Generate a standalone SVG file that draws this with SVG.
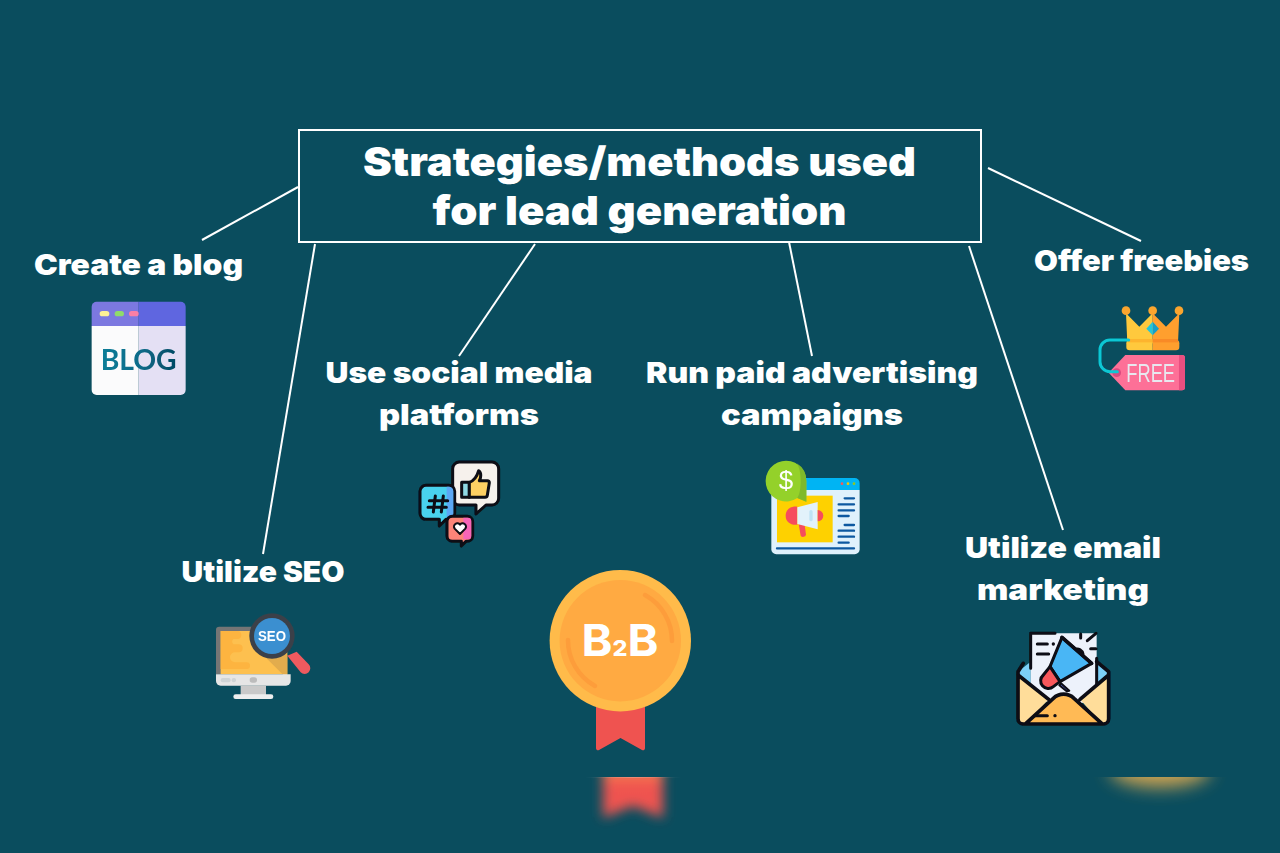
<svg xmlns="http://www.w3.org/2000/svg" width="1280" height="853" viewBox="0 0 1280 853">
  <style>
    .bg { fill: #0a4d5e; }
    .lbl { font-family: "Inter", "Liberation Sans", sans-serif; font-weight: 900; font-size: 29px; fill: #ffffff; text-anchor: middle; }
    .ttl { font-family: "Inter", "Liberation Sans", sans-serif; font-weight: 900; font-size: 40px; fill: #ffffff; text-anchor: middle; }
    .conn line { stroke: #ffffff; stroke-width: 2; fill: none; }
    .ink { stroke: #0b0b12; stroke-width: 9; stroke-linejoin: round; stroke-linecap: round; }
    .ico { font-family: "Liberation Sans", sans-serif; font-weight: 700; text-anchor: middle; }
  </style>
  <defs>
    <filter id="soft" x="-10%" y="-10%" width="120%" height="120%"><feGaussianBlur stdDeviation="1.5"/></filter>
    <filter id="blurA" x="-50%" y="-50%" width="200%" height="200%"><feGaussianBlur stdDeviation="6"/></filter>
    <filter id="blurB" x="-40%" y="-150%" width="180%" height="400%"><feGaussianBlur stdDeviation="9"/></filter>
    <clipPath id="floor"><rect x="0" y="777" width="1280" height="76"/></clipPath>
    <linearGradient id="ribbonFade" x1="0" y1="0" x2="0" y2="1">
      <stop offset="0" stop-color="#f98a50"/>
      <stop offset="0.35" stop-color="#ef5350"/>
      <stop offset="1" stop-color="#ee5450"/>
    </linearGradient>
    <linearGradient id="blogInk" gradientUnits="userSpaceOnUse" x1="122" y1="0" x2="350" y2="0">
      <stop offset="0" stop-color="#0a7d98"/>
      <stop offset="0.5" stop-color="#0a6c8a"/>
      <stop offset="1" stop-color="#054a64"/>
    </linearGradient>
    <linearGradient id="sheen" x1="0" y1="0" x2="1" y2="0">
      <stop offset="0" stop-color="#ffffff" stop-opacity="0"/>
      <stop offset="0.5" stop-color="#ffffff" stop-opacity="0.22"/>
      <stop offset="1" stop-color="#ffffff" stop-opacity="0"/>
    </linearGradient>
  </defs>

  <rect class="bg" width="1280" height="853"/>

  <g id="connectors" class="conn">
    <line x1="298" y1="187" x2="202" y2="240"/>
    <line x1="315" y1="244" x2="263" y2="554"/>
    <line x1="535" y1="244" x2="459" y2="356"/>
    <line x1="789" y1="242" x2="812" y2="356"/>
    <line x1="969" y1="246" x2="1063" y2="530"/>
    <line x1="988" y1="168" x2="1141" y2="241"/>
  </g>

  <g id="title">
    <rect x="299" y="130" width="682" height="112" fill="none" stroke="#ffffff" stroke-width="2"/>
    <text class="ttl" x="639.500" y="176" textLength="553" lengthAdjust="spacingAndGlyphs">Strategies/methods used</text>
    <text class="ttl" x="639.500" y="225" textLength="414" lengthAdjust="spacingAndGlyphs">for lead generation</text>
  </g>

  <g id="blog">
    <text class="lbl" x="138.500" y="275" textLength="209" lengthAdjust="spacingAndGlyphs">Create a blog</text>
    <g transform="translate(60 280) scale(.3333)" filter="url(#soft)">
      <path d="M95 138V80a15 15 0 0 1 15-15H236V138Z" fill="#7c78e0"/>
      <path d="M236 65H362a15 15 0 0 1 15 15V138H236Z" fill="#5f66e0"/>
      <path d="M95 138H236V345H110a15 15 0 0 1-15-15Z" fill="#fbfbfc"/>
      <path d="M236 138H377V330a15 15 0 0 1-15 15H236Z" fill="#e4e0f4"/>
      <rect x="119" y="93" width="29" height="16" rx="8" fill="#fdf096"/>
      <rect x="164" y="93" width="28" height="16" rx="8" fill="#8fdc6a"/>
      <rect x="207" y="93" width="29" height="16" rx="8" fill="#fb7fa5"/>
      <text x="236" y="269" text-anchor="middle" font-family="Lato, 'Liberation Sans', sans-serif" font-weight="700" font-size="88" fill="url(#blogInk)" textLength="228" lengthAdjust="spacingAndGlyphs">BLOG</text>
    </g>
  </g>

  <g id="seo">
    <text class="lbl" x="263" y="582" textLength="163" lengthAdjust="spacingAndGlyphs">Utilize SEO</text>
    <g transform="translate(200 605) scale(.3333)" filter="url(#soft)">
      <path d="M48 208V75a10 10 0 0 1 10-10H160V208Z" fill="#757575"/>
      <rect x="62" y="78" width="200" height="130" fill="#fdc04f"/>
      <path d="M180 140L262 222V150L225 115Z" fill="#e2ac4d"/>
      <path d="M62 78H112a12 12 0 0 1 0 24H100a12 12 0 0 0 0 16H116a12 12 0 0 1 0 24H105a12 12 0 0 0 0 30H140a10 10 0 0 1 0 20H62Z" fill="#fdb43f"/>
      <path d="M48 208H272V228a14 14 0 0 1-14 14H62a14 14 0 0 1-14-14Z" fill="#e6e6e6"/>
      <rect x="62" y="219" width="30" height="13" rx="6" fill="#cfd4d6"/>
      <rect x="95" y="219" width="13" height="13" rx="6" fill="#cfd4d6"/>
      <rect x="149" y="217" width="22" height="16" rx="8" fill="#bcbcbc"/>
      <rect x="122" y="242" width="76" height="28" fill="#c9c9c9"/>
      <rect x="100" y="268" width="120" height="14" rx="7" fill="#eeeeee"/>
      <path d="M262 152L290 140L326 178a16 16 0 0 1-24 24Z" fill="#ef5a5e"/>
      <circle cx="216" cy="93" r="68" fill="#3a4149"/>
      <circle cx="216" cy="93" r="54" fill="#3a8fd0"/>
      <text class="ico" x="216" y="108" font-size="42" fill="#ffffff" textLength="84" lengthAdjust="spacingAndGlyphs">SEO</text>
    </g>
  </g>

  <g id="social">
    <text class="lbl" x="459" y="383" textLength="267" lengthAdjust="spacingAndGlyphs">Use social media</text>
    <text class="lbl" x="459" y="425" textLength="160" lengthAdjust="spacingAndGlyphs">platforms</text>
    <g transform="translate(400 450) scale(.3333)" filter="url(#soft)">
      <path class="ink" d="M178 36H276a20 20 0 0 1 20 20V145a20 20 0 0 1-20 20H258L228 192V165H178a20 20 0 0 1-20-20V56a20 20 0 0 1 20-20Z" fill="#f6f1ec"/>
      <path class="ink" d="M185 97H208V142H185Z" fill="#8fd8e4"/>
      <path class="ink" d="M208 97C224 92 232 76 236 62C246 68 242 86 238 92H262a6 6 0 0 1 6 6L262 136a7 7 0 0 1-7 6H208Z" fill="#fed063"/>
      <path class="ink" d="M78 106H146a18 18 0 0 1 18 18V190a18 18 0 0 1-18 18H138L118 228V208H78a18 18 0 0 1-18-18V124a18 18 0 0 1 18-18Z" fill="#48d2ee"/>
      <path d="M140 110H148a14 14 0 0 1 12 14V190a14 14 0 0 1-12 14H140Z" fill="#5ba8f5"/>
      <g class="ink" fill="none" stroke-width="7"><path d="M106 138L100 186M130 138L124 186M88 152H143M84 172H139"/></g>
      <path class="ink" d="M157 199H202a16 16 0 0 1 16 16V258a16 16 0 0 1-16 16H198L184 288V274H157a16 16 0 0 1-16-16V215a16 16 0 0 1 16-16Z" fill="#fb8478"/>
      <path d="M190 203H204a10 10 0 0 1 10 10V258a10 10 0 0 1-10 10H190Z" fill="#f765b8"/>
      <path class="ink" style="stroke-width:6" d="M180 252L164 236A10 10 0 0 1 180 224A10 10 0 0 1 196 236Z" fill="#ffffff"/>
    </g>
  </g>

  <g id="ads">
    <text class="lbl" x="812" y="383" textLength="332" lengthAdjust="spacingAndGlyphs">Run paid advertising</text>
    <text class="lbl" x="812" y="425" textLength="182" lengthAdjust="spacingAndGlyphs">campaigns</text>
    <g transform="translate(750 450) scale(.3333)" filter="url(#soft)">
      <path d="M64 120V298a15 15 0 0 0 15 15H314a15 15 0 0 0 15-15V120Z" fill="#dff1fc"/>
      <path d="M140 84H314a15 15 0 0 1 15 15V120H140Z" fill="#06b4f3"/>
      <circle cx="276" cy="101" r="4" fill="#ef5a5e"/><circle cx="294" cy="101" r="4" fill="#f7c600"/><circle cx="312" cy="101" r="4" fill="#8fc81f"/>
      <rect x="81" y="137" width="167" height="140" fill="#fed100"/>
      <path d="M146 222L164 224L168 254a9 9 0 0 1-16 3Z" fill="#f64d5d"/>
      <path d="M142 170C120 168 107 180 107 197C107 214 120 226 142 224Z" fill="#f64d5d"/>
      <path d="M142 172L203 156V238L142 222Z" fill="#e2f2fb"/>
      <rect x="178" y="180" width="10" height="34" rx="5" fill="#bfe3f5"/>
      <path d="M203 180a17 17 0 0 1 0 34Z" fill="#f64d5d"/>
      <g fill="none" stroke="#0d59a0" stroke-width="7" stroke-linecap="round">
        <path d="M284 145H312M266 163H312M266 181H312M266 198H296M284 225H312M266 242H312M266 260H312M266 278H296M81 295H312"/>
      </g>
      <path d="M169 93A61 61 0 1 0 142 144L169 155Z" fill="#94d12c"/>
      <path d="M140 40A61 61 0 0 1 169 93V155L142 144C156 125 156 60 140 40Z" fill="#7fb92a"/>
      <text x="108" y="118" text-anchor="middle" font-family="'Liberation Sans', sans-serif" font-size="78" fill="#ffffff">$</text>
    </g>
  </g>

  <g id="email">
    <text class="lbl" x="1063" y="558" textLength="196" lengthAdjust="spacingAndGlyphs">Utilize email</text>
    <text class="lbl" x="1063" y="600" textLength="172" lengthAdjust="spacingAndGlyphs">marketing</text>
    <g transform="translate(1000 620) scale(.3333)" filter="url(#soft)">
      <path d="M54 155L92 125V230Z" fill="#7cd0f8"/>
      <path d="M326 155L288 125V230Z" fill="#7cd0f8"/>
      <path d="M92 230V40H290V240L190 260Z" fill="#edf2fb"/>
      <path d="M92 145V40H165M290 115V240" class="ink" fill="none"/>
      <path class="ink" d="M112 72H142M112 102H146" fill="none"/>
      <circle cx="160" cy="72" r="5" fill="#0b0b12"/>
      <path d="M242 42V54M262 62L288 40M272 86H288" class="ink" fill="none"/>
      <path d="M225 88a18 18 0 0 1 24 14L225 92Z" fill="#f65a5c" class="ink"/>
      <path class="ink" d="M186 52L275 130L180 185L150 140Z" fill="#49b6f5"/>
      <path class="ink" d="M186 52L275 130" style="stroke-width:11" fill="none"/>
      <path class="ink" d="M150 140L130 165A22 22 0 0 0 160 200L180 185Z" fill="#f9595c"/>
      <path class="ink" style="stroke-width:6" d="M183 190L208 212L200 214L178 196Z" fill="#6474e6"/>
      <path d="M54 165L146 238L78 312H70a16 16 0 0 1-16-16Z" fill="#ffdd9a"/>
      <path d="M326 165L240 238L305 312H310a16 16 0 0 0 16-16Z" fill="#ffdd9a"/>
      <path d="M78 310L160 235A45 45 0 0 1 222 235L305 310Z" fill="#ffba55"/>
      <path class="ink" fill="none" style="stroke-width:11" d="M70 130L54 155V296a16 16 0 0 0 16 16H310a16 16 0 0 0 16-16V155L290 125M54 165L146 238M326 165L240 238M78 310L160 235A45 45 0 0 1 222 235L305 310"/>
      <path class="ink" fill="none" d="M105 287H142"/>
      <circle cx="165" cy="287" r="5" fill="#0b0b12"/>
    </g>
  </g>

  <g id="freebies">
    <text class="lbl" x="1141.500" y="271" textLength="215" lengthAdjust="spacingAndGlyphs">Offer freebies</text>
    <g transform="translate(1080 290) scale(.3333)" filter="url(#soft)">
      <path d="M138 70L178 110L218 70V160H142Z" fill="#ffc93c"/>
      <path d="M218 70L258 110L298 70L294 160H218Z" fill="#ff9f2f"/>
      <path d="M149 150H218V181H149a10 10 0 0 1-10-10V160a10 10 0 0 1 10-10Z" fill="#ffc93c"/>
      <path d="M218 150H288a10 10 0 0 1 10 10V171a10 10 0 0 1-10 10H218Z" fill="#ff9f2f"/>
      <rect x="144" y="147" width="74" height="10" fill="#fdb42d"/>
      <rect x="218" y="147" width="76" height="10" fill="#f98a26"/>
      <circle cx="138" cy="62" r="13" fill="#fba52e"/><circle cx="218" cy="62" r="13" fill="#fba52e"/><circle cx="297" cy="62" r="13" fill="#fba52e"/>
      <path d="M218 95L237 116L218 136Z" fill="#129fc9"/>
      <path d="M218 95L199 116L218 136Z" fill="#22c7da"/>
      <path d="M136 195H306a9 9 0 0 1 9 9V292a9 9 0 0 1-9 9H136L86 248Z" fill="#fd6f97"/>
      <path d="M297 195H306a9 9 0 0 1 9 9V292a9 9 0 0 1-9 9H297Z" fill="#e94f80"/>
      <circle cx="110" cy="248" r="13" fill="#d94a7f"/>
      <path d="M146 150H90a30 30 0 0 0-30 30V215a30 30 0 0 0 30 30H112" fill="none" stroke="#09c7d4" stroke-width="9" stroke-linecap="round"/>
      <text x="212" y="276" text-anchor="middle" font-family="'Liberation Sans', sans-serif" font-size="80" fill="#e8e8ef" textLength="146" lengthAdjust="spacingAndGlyphs">FREE</text>
    </g>
  </g>

  <g id="badge">
    <path d="M596 702H645V748a2 2 0 0 1-3 2L620.500 738L599 750a2 2 0 0 1-3-2Z" fill="#ef5350"/>
    <circle cx="620.300" cy="640.700" r="70.700" fill="#ffbb4a"/>
    <circle cx="620.300" cy="640.700" r="60.700" fill="#ffaa42"/>
    <path d="M645 595A52 52 0 0 1 672 641M568 640A52 52 0 0 0 595 686" fill="none" stroke="#fd9d3b" stroke-width="4.500" stroke-linecap="round"/>
    <text x="620" y="656" text-anchor="middle" font-family="Inter, 'Liberation Sans', sans-serif" font-weight="700" font-size="44" fill="#ffffff" textLength="77" lengthAdjust="spacingAndGlyphs">B<tspan font-size="22" font-weight="800">2</tspan>B</text>
  </g>

  <!-- Soft floor reflections under the badge and the envelope -->
  <g id="reflections" clip-path="url(#floor)">
    <path d="M603 768H663V818L633 806L603 818Z" fill="url(#ribbonFade)" filter="url(#blurA)"/>
    <rect x="585" y="777" width="96" height="1" fill="url(#sheen)"/>
    <ellipse cx="1160" cy="770" rx="50" ry="17" fill="#f4b550" opacity="0.85" filter="url(#blurB)"/>
  </g>
</svg>
